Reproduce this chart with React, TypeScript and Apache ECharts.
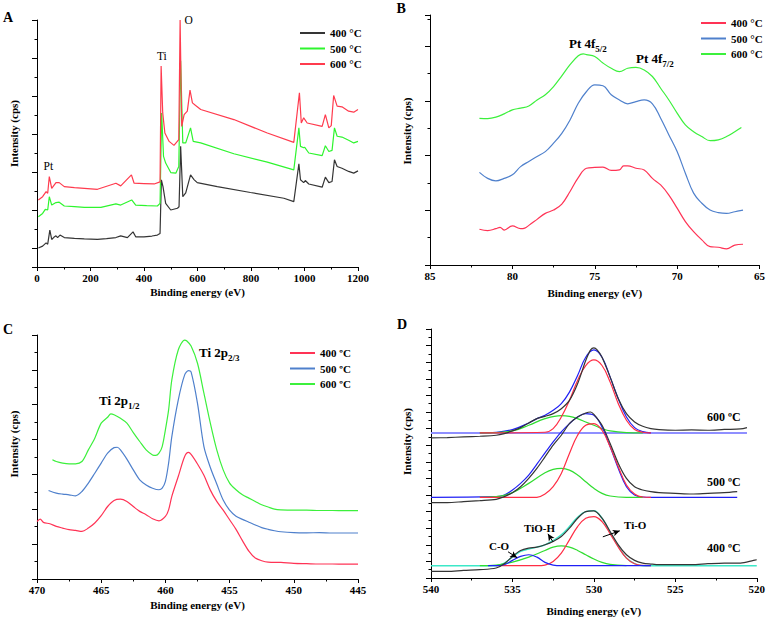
import React, { useEffect, useRef } from "react";
import * as echarts from "echarts";

const FONT = "'Liberation Serif', 'Times New Roman', serif";

// ---------- Panel A: survey spectra (eV, intensity a.u.) ----------
const A400 = [[5,10],[21,11],[34,12.7],[40,12],[48,19.4],[55,14.5],[63,15.6],[71,16.4],[77,15.5],[86,16.8],[102,15.5],[140,15.1],[177,14.8],[226,14.5],[260,14.9],[295,15.5],[313,16.4],[338,15.5],[359,18.5],[369,15.9],[400,15.9],[430,16.3],[450,16.8],[460,17.6],[465,45.9],[471,42.3],[481,33.5],[500,30],[525,30.9],[531,31.7],[537,63.5],[545,37],[556,39],[574,48.5],[587,46],[599,44.4],[674,42.3],[798,39.2],[923,36.2],[960,34.4],[979,54.3],[985,45.9],[997,44.4],[1003,45.5],[1016,43.7],[1066,42],[1078,47.3],[1091,44.4],[1103,45],[1112,56.4],[1122,52.9],[1140,52],[1165,50.3],[1184,49.4],[1200,50.6]];
const A500 = [[5,26.5],[21,28.2],[31,30.3],[40,30],[46,37],[55,32.6],[71,33.9],[83,34.1],[102,32.1],[140,31.8],[177,31.4],[239,31.4],[295,33.2],[313,32.6],[354,35.3],[369,32.6],[410,32.3],[450,32.1],[460,33.5],[466,81.1],[473,58.2],[481,54.7],[500,49.7],[519,49.4],[530,52.9],[537,108.5],[545,65.3],[556,65.3],[574,73.2],[584,66.1],[612,65.3],[736,59.6],[861,55.2],[960,51.1],[979,73.2],[985,63.5],[997,62.8],[1001,63],[1016,60],[1066,58.6],[1078,63.8],[1091,60.8],[1103,61.4],[1112,73.2],[1122,68.8],[1140,68.4],[1165,66.7],[1184,65.3],[1200,66.1]];
const A600 = [[5,35.3],[21,37],[34,39.7],[40,38.8],[46,47.6],[55,41.4],[71,44.4],[83,44.4],[102,42.3],[140,41.8],[177,41.4],[226,40.9],[295,44.1],[313,42.7],[353,48.5],[363,44.1],[400,43.9],[438,43.7],[460,44.8],[464,105.8],[470,81.1],[478,70.5],[494,66.1],[512,64],[530,67],[535,130],[541,74],[550,80.2],[562,82],[572,93.1],[581,86.4],[593,85],[612,82.9],[736,77.6],[861,70.5],[960,65.6],[981,91.7],[988,75.8],[997,78.5],[1010,75.8],[1066,74],[1078,80.2],[1091,73.2],[1100,74.4],[1109,90.3],[1122,84.7],[1140,84.3],[1165,82],[1184,81.5],[1200,82.9]];

// ---------- Panel B: Pt 4f ----------
const B400 = [[82,1.31],[81.5,1.26],[81,1.33],[80.75,1.38],[80.5,1.28],[80,1.43],[79.5,1.33],[79.25,1.35],[79,1.45],[78.5,1.67],[78,1.89],[77.5,2.01],[77,2.23],[76.5,2.69],[76,3.2],[75.5,3.54],[75,3.57],[74.5,3.58],[74,3.46],[73.5,3.48],[73.25,3.63],[73,3.63],[72.5,3.54],[72,3.48],[71.5,3.17],[71,2.93],[70.5,2.56],[70,2.08],[69.5,1.59],[69,1.22],[68.5,0.92],[68,0.67],[67.5,0.65],[67,0.59],[66.5,0.73],[66,0.76]];
const B500 = [[82,3.39],[81.5,3.17],[81,3.08],[80.5,3.17],[80,3.3],[79.5,3.6],[79,3.79],[78.5,3.97],[78,4.15],[77.5,4.46],[77,4.82],[76.5,5.31],[76,5.92],[75.5,6.35],[75,6.59],[74.5,6.56],[74,6.23],[73.5,6.04],[73,5.9],[72.5,5.98],[72,6.04],[71.5,5.9],[71,5.37],[70.5,4.76],[70,4.15],[69.5,3.36],[69,2.63],[68.5,2.26],[68,2.01],[67.5,1.92],[67,1.89],[66.5,1.95],[66,2.01]];
const B600 = [[82,5.37],[81.5,5.36],[81,5.41],[80.5,5.53],[80,5.68],[79.5,5.74],[79,5.82],[78.5,6.04],[78,6.23],[77.5,6.53],[77,6.92],[76.5,7.33],[76,7.66],[75.7,7.73],[75.5,7.7],[75,7.63],[74.5,7.39],[74,7.2],[73.5,7.08],[73,7.2],[72.5,7.23],[72,7.14],[71.5,6.9],[71,6.47],[70.5,6.04],[70,5.56],[69.5,5.13],[69,4.88],[68.5,4.7],[68,4.55],[67.5,4.58],[67,4.7],[66.5,4.88],[66.1,5.03]];

// ---------- Panel C: Ti 2p ----------
const C400 = [[470,3.3],[469.75,3.44],[469.5,3.25],[469,3.17],[468.5,3.02],[468,2.92],[467.5,2.83],[467,2.79],[466.5,2.73],[466,2.92],[465.5,3.21],[465,3.63],[464.5,4.16],[464,4.51],[463.5,4.58],[463,4.45],[462.5,4.16],[462,3.88],[461.5,3.69],[461,3.46],[460.5,3.34],[460,3.59],[459.75,3.97],[459.5,4.74],[459,5.88],[458.5,7.03],[458.2,7.26],[458,7.15],[457.5,6.6],[457,5.95],[456.5,5.1],[456,4.45],[455.5,3.95],[455,3.4],[454.5,2.85],[454,2.2],[453.5,1.6],[453,1.2],[452.5,1.05],[452,0.97],[451,0.95],[450,0.9],[449,0.88],[448,0.86],[447,0.86],[446,0.85],[445,0.85]];
const C500 = [[469.1,5.08],[468.5,4.93],[468,4.87],[467.5,4.83],[467,4.77],[466.5,5.02],[466,5.5],[465.5,6.07],[465,6.65],[464.5,7.22],[464,7.54],[463.75,7.56],[463.5,7.41],[463,6.88],[462.5,6.26],[462,5.69],[461.5,5.4],[461,5.21],[460.5,5.12],[460.25,5.21],[460,5.6],[459.75,6.65],[459.5,8.17],[459,10.27],[458.5,11.71],[458.2,11.96],[458,11.88],[457.5,10.08],[457,7.6],[456.5,6.4],[456,5.45],[455.5,4.53],[455,3.95],[454.5,3.6],[454,3.42],[453.5,3.26],[453,3.1],[452.5,2.95],[452,2.85],[451.5,2.77],[451,2.71],[450,2.66],[449,2.65],[448,2.66],[447,2.64],[446,2.64],[445,2.64]];
const C600 = [[468.8,6.84],[468.5,6.74],[468,6.65],[467.5,6.61],[467,6.61],[466.5,6.74],[466,7.41],[465.5,8.08],[465,8.94],[464.5,9.28],[464.25,9.47],[464,9.42],[463.5,9.22],[463,8.94],[462.5,8.4],[462,7.89],[461.5,7.41],[461,7.12],[460.75,7.09],[460.5,7.22],[460.25,7.6],[460,8.56],[459.75,9.7],[459.5,11.42],[459,13.14],[458.5,13.71],[458.35,13.67],[458,13.37],[457.5,12.38],[457,10.66],[456.5,8.94],[456,7.41],[455.5,6.26],[455,5.5],[454.5,5.12],[454,4.83],[453.5,4.64],[453,4.45],[452.5,4.26],[452,4.13],[451.5,4.01],[451,3.97],[450,3.95],[449,3.95],[448,3.93],[447,3.93],[446,3.92],[445,3.92]];

// ---------- Panel D: O 1s with fitted components ----------
const D600_raw = [[540,16.88],[539,16.92],[538,17.0],[537,17.08],[536,17.2],[535.5,17.4],[535,17.72],[534.5,18.12],[534,18.68],[533.5,19.2],[533,19.48],[532.5,19.8],[532,20.4],[531.5,21.4],[531,23.4],[530.5,26.2],[530.2,27.48],[530,27.72],[529.8,27.48],[529.5,26.6],[529,24.2],[528.5,21.6],[528,19.8],[527.5,18.8],[527,18.28],[526.5,18.0],[526,17.88],[525,17.8],[524,17.84],[523,17.8],[522,17.9],[521,17.96],[520.6,18.12]];
const D600_base = [[540,17.48],[520.6,17.48]];
const D600_env = [[537,17.48],[536,17.56],[535,17.88],[534,18.68],[533.5,19.2],[533,19.6],[532.5,20.2],[532,21.0],[531.5,22.4],[531,24.4],[530.5,26.6],[530,27.48],[529.5,26.6],[529,24.2],[528.5,21.6],[528,19.4],[527.5,18.12],[527,17.64],[526.5,17.48]];
const D600_ti = [[537,17.48],[533,17.56],[532.5,18.0],[532,19.4],[531.5,21.4],[531,23.8],[530.5,25.6],[530,26.28],[529.5,25.6],[529,23.6],[528.5,21.0],[528,19.0],[527.5,17.88],[527,17.56],[526.5,17.48]];
const D600_oh = [[537,17.48],[535,17.72],[534,18.4],[533,19.2],[532,19.56],[531.5,19.48],[531,19.2],[530.5,18.8],[530,18.4],[529.5,18.0],[529,17.72],[528,17.52],[527,17.48]];

const D500_raw = [[540,9.08],[539,9.08],[538,9.2],[537,9.32],[536,9.48],[535.5,9.8],[535,10.28],[534.5,11.0],[534,12.0],[533.5,13.2],[533,14.6],[532.5,16.0],[532,17.2],[531.5,18.6],[531,19.4],[530.5,19.88],[530.2,20.0],[530,19.72],[529.5,18.4],[529,16.2],[528.5,13.8],[528,12.0],[527.5,11.0],[527,10.6],[526.5,10.4],[526,10.28],[525,10.2],[524,10.12],[523,10.2],[522,10.28],[521.2,10.4]];
const D500_env = [[540,9.72],[536,9.8],[535.5,10.0],[535,10.6],[534.5,11.4],[534,12.4],[533.5,13.72],[533,15.08],[532.5,16.4],[532,17.6],[531.5,18.6],[531,19.4],[530.5,19.8],[530,19.6],[529.5,18.2],[529,15.8],[528.5,13.2],[528,11.0],[527.5,10.0],[527,9.76],[526.5,9.72],[521.2,9.72]];
const D500_ti = [[537,9.72],[533.5,9.72],[533,10.12],[532.5,11.0],[532,12.6],[531.5,15.0],[531,17.2],[530.5,18.4],[530,18.6],[529.5,17.8],[529,15.8],[528.5,13.4],[528,11.2],[527.5,10.12],[527,9.76],[526.5,9.72]];
const D500_oh = [[537,9.72],[536,9.8],[535,10.28],[534,11.4],[533,12.68],[532.5,13.08],[532,13.2],[531.5,13.0],[531,12.4],[530.5,11.6],[530,10.8],[529.5,10.2],[529,9.88],[528,9.72],[527,9.72]];

const D400_raw = [[540,0.8],[539,0.8],[538,0.92],[537,1.0],[536,1.2],[535.5,1.72],[535,2.6],[534.5,3.32],[534,3.6],[533.5,3.72],[533,4.0],[532.5,4.4],[532,5.0],[531.5,6.0],[531,7.2],[530.5,8.0],[530,8.08],[529.5,7.2],[529,5.6],[528.5,4.0],[528,2.8],[527.5,2.12],[527,1.8],[526.5,1.68],[526,1.6],[525,1.6],[524,1.6],[523,1.72],[522,1.8],[521,1.8],[520.2,2.12],[520,2.2]];
const D400_env = [[540,1.48],[536,1.48],[535.5,1.8],[535,2.52],[534.5,3.2],[534,3.48],[533.5,3.72],[533,4.0],[532.5,4.52],[532,5.2],[531.5,6.2],[531,7.32],[530.5,8.0],[530,8.12],[529.5,7.2],[529,5.48],[528.5,3.8],[528,2.4],[527.5,1.72],[527,1.48],[520,1.48]];
const D400_co = [[536.5,1.48],[536,1.48],[535.5,1.6],[535,2.12],[534.5,2.6],[534,2.8],[533.5,2.52],[533,1.88],[532.5,1.56],[532,1.48],[526.5,1.48]];
const D400_ti = [[536,1.48],[533.5,1.48],[533,1.56],[532.5,2.0],[532,3.0],[531.5,4.6],[531,6.2],[530.5,7.2],[530,7.4],[529.5,6.8],[529,5.32],[528.5,3.72],[528,2.4],[527.5,1.72],[527,1.52],[526.5,1.48]];
const D400_oh = [[537,1.48],[536,1.56],[535,1.92],[534,2.52],[533,3.32],[532.5,3.72],[532,3.88],[531.5,3.72],[531,3.32],[530.5,2.8],[530,2.28],[529.5,1.88],[529,1.64],[528,1.48]];

// annotation arrows in panel D (data coordinates: [eV, intensity])
const D_ARROWS = [
  [[535.27, 3.16], [534.71, 2.44]],
  [[532.51, 4.36], [532.82, 5.32]],
  [[529.45, 4.96], [528.41, 5.68]],
];

const TEMPS = ["400", "500", "600"];

const COL = {
  black: "#353535",
  aGreen: "#2ef52e",
  aRed: "#ff3b4e",
  red: "#ff3355",
  blue: "#4f80cc",
  green: "#3cf03c",
  dBlue: "#2020f5",
  dRed: "#ff2d45",
  dGreen: "#30dd30",
  dCyan: "#3ce8c8",
  dLav: "#8f8fff",
};

function line(name: string, data: number[][], axis: number, color: string, smooth: number | boolean, width = 1.2, extra: any = {}) {
  return {
    type: "line",
    name,
    data,
    xAxisIndex: axis,
    yAxisIndex: axis,
    symbol: "none",
    showSymbol: false,
    smooth,
    silent: true,
    lineStyle: { color, width },
    itemStyle: { color },
    emphasis: { disabled: true },
    z: 3,
    ...extra,
  };
}

const axisText = { fontFamily: FONT, fontWeight: "bold" as const, fontSize: 11, color: "#000" };

function xAxis(gridIndex: number, min: number, max: number, interval: number, inverse: boolean, nameGap: number) {
  return {
    type: "value",
    gridIndex,
    min,
    max,
    interval,
    inverse,
    name: "Binding energy (eV)",
    nameLocation: "middle",
    nameGap,
    nameTextStyle: { ...axisText },
    axisLine: { show: true, onZero: false, lineStyle: { color: "#000", width: 1 } },
    axisTick: { show: true, length: 4, lineStyle: { color: "#000", width: 1 } },
    minorTick: { show: true, splitNumber: 2, length: 2.5, lineStyle: { color: "#000", width: 1 } },
    axisLabel: { ...axisText, margin: 5, formatter: (v: number) => String(v) },
    splitLine: { show: false },
    minorSplitLine: { show: false },
  };
}

function yData(gridIndex: number, max: number, interval: number) {
  return {
    type: "value",
    gridIndex,
    min: 0,
    max,
    interval,
    position: "left",
    axisLine: { show: true, onZero: false, lineStyle: { color: "#000", width: 1 } },
    axisTick: { show: true, length: 2.5, lineStyle: { color: "#000", width: 1 } },
    axisLabel: { show: false },
    splitLine: { show: false },
  };
}

function yMajor(gridIndex: number, max: number, interval: number, inverse: boolean) {
  return {
    type: "value",
    gridIndex,
    min: 0,
    max,
    interval,
    inverse,
    position: "left",
    axisLine: { show: false },
    axisTick: { show: true, length: 5, lineStyle: { color: "#000", width: 1 } },
    axisLabel: { show: false },
    splitLine: { show: false },
  };
}

function legend(prefix: string, left: number, top: number, unit: string) {
  return {
    data: TEMPS.map((t) => ({ name: prefix + t, icon: "rect" })),
    left,
    top,
    orient: "vertical",
    itemWidth: 25,
    itemHeight: 2,
    itemGap: 4.5,
    selectedMode: false,
    padding: 0,
    formatter: (n: string) => n.slice(1) + " " + unit,
    textStyle: { ...axisText, fontSize: 11, padding: [0, 0, 0, 0] },
  };
}

function txt(x: number, y: number, text: string, size: number, bold = true, extra: any = {}) {
  return {
    type: "text",
    x,
    y,
    silent: true,
    style: {
      text,
      fontFamily: FONT,
      fontWeight: bold ? "bold" : "normal",
      fontSize: size,
      fill: "#000",
      align: "left",
      verticalAlign: "middle",
      ...extra,
    },
  };
}

function subTxt(x: number, y: number, main: string, sub: string) {
  return {
    type: "text",
    x,
    y,
    silent: true,
    style: {
      text: `{a|${main}}{b|${sub}}`,
      align: "left",
      verticalAlign: "middle",
      rich: {
        a: { fontFamily: FONT, fontWeight: "bold", fontSize: 13, fill: "#000", lineHeight: 20, verticalAlign: "middle" },
        b: { fontFamily: FONT, fontWeight: "bold", fontSize: 9, fill: "#000", lineHeight: 20, verticalAlign: "bottom" },
      },
    },
  };
}

function yName(x: number, y: number) {
  return {
    type: "text",
    x,
    y,
    rotation: Math.PI / 2,
    silent: true,
    style: {
      text: "Intensity (cps)",
      fontFamily: FONT,
      fontWeight: "bold",
      fontSize: 11,
      fill: "#000",
      align: "center",
      verticalAlign: "middle",
    },
  };
}

function buildOption() {
  const series: any[] = [
    line("A400", A400, 0, COL.black, false),
    line("A500", A500, 0, COL.aGreen, false),
    line("A600", A600, 0, COL.aRed, false),
    line("B400", B400, 1, COL.red, 0.4),
    line("B500", B500, 1, COL.blue, 0.4),
    line("B600", B600, 1, COL.green, 0.4),
    line("C400", C400, 2, COL.red, 0.3),
    line("C500", C500, 2, COL.blue, 0.3),
    line("C600", C600, 2, COL.green, 0.3),
    // D: 600
    line("d600base", D600_base, 3, COL.dLav, false, 2),
    line("d600env", D600_env, 3, COL.dBlue, 0.4),
    line("d600oh", D600_oh, 3, COL.dGreen, 0.4),
    line("d600ti", D600_ti, 3, COL.dRed, 0.4),
    line("d600raw", D600_raw, 3, COL.black, 0.3),
    // D: 500
    line("d500env", D500_env, 3, COL.dBlue, 0.4),
    line("d500oh", D500_oh, 3, COL.dGreen, 0.4),
    line("d500ti", D500_ti, 3, COL.dRed, 0.4),
    line("d500raw", D500_raw, 3, COL.black, 0.3),
    // D: 400
    line("d400env", D400_env, 3, COL.dCyan, 0.4, 1.4),
    line("d400oh", D400_oh, 3, COL.dGreen, 0.4),
    line("d400ti", D400_ti, 3, COL.dRed, 0.4),
    line("d400co", D400_co, 3, COL.dBlue, 0.4),
    line("d400raw", D400_raw, 3, COL.black, 0.3, 1.2, {
      markLine: {
        silent: true,
        symbol: ["none", "arrow"],
        symbolSize: [5, 7],
        label: { show: false },
        emphasis: { disabled: true },
        lineStyle: { color: "#000", width: 1, type: "solid" },
        data: D_ARROWS.map(([s, e]) => [{ coord: s }, { coord: e }]),
      },
    }),
  ];

  return {
    animation: false,
    backgroundColor: "#fff",
    grid: [
      { left: 37, top: 20, width: 321, height: 247 },
      { left: 430, top: 15, width: 330, height: 250 },
      { left: 37, top: 335, width: 321, height: 244 },
      { left: 431, top: 329, width: 326, height: 249 },
    ],
    xAxis: [
      xAxis(0, 0, 1200, 200, false, 19.5),
      xAxis(1, 65, 85, 5, true, 22),
      xAxis(2, 445, 470, 5, true, 20),
      xAxis(3, 520, 540, 5, true, 27),
    ],
    yAxis: [
      yData(0, 130, 10),
      yData(1, 9.15, 1),
      yData(2, 14, 1),
      yData(3, 30, 1),
      yMajor(0, 130, 20, true),
      yMajor(1, 9.15, 2, false),
      yMajor(2, 14, 2, false),
      yMajor(3, 30, 2, false),
    ],
    legend: [
      legend("A", 300, 27.5, "°C"),
      legend("B", 701, 17.5, "°C"),
      legend("C", 290, 347.5, "ºC"),
    ],
    series,
    graphic: [
      txt(3, 17.5, "A", 14),
      txt(396.5, 8, "B", 14),
      txt(3, 329, "C", 14),
      txt(397, 324.5, "D", 14),
      txt(43.5, 166, "Pt", 11.5, false),
      txt(157, 56, "Ti", 11.5, false),
      txt(184.5, 19.5, "O", 11.5, false),
      subTxt(569, 43, "Pt 4f", "5/2"),
      subTxt(636, 58, "Pt 4f", "7/2"),
      subTxt(99, 400, "Ti 2p", "1/2"),
      subTxt(199, 352, "Ti 2p", "2/3"),
      txt(707, 417, "600 ºC", 12),
      txt(707, 482, "500 ºC", 12),
      txt(707, 548, "400 ºC", 12),
      txt(489, 546, "C-O", 11),
      txt(524, 527.5, "TiO-H", 11),
      txt(624, 524.5, "Ti-O", 11),
      yName(14, 133.5),
      yName(407, 131),
      yName(14, 444),
      yName(407, 441.5),
    ],
  };
}

export default function App() {
  const ref = useRef<HTMLDivElement>(null);
  useEffect(() => {
    if (!ref.current) return;
    const chart = echarts.init(ref.current, null, { renderer: "svg" });
    chart.setOption(buildOption() as any);
    return () => chart.dispose();
  }, []);
  return (
    <div
      ref={ref}
      style={{ position: "fixed", left: 0, top: 0, width: 768, height: 618, background: "#fff" }}
    />
  );
}
